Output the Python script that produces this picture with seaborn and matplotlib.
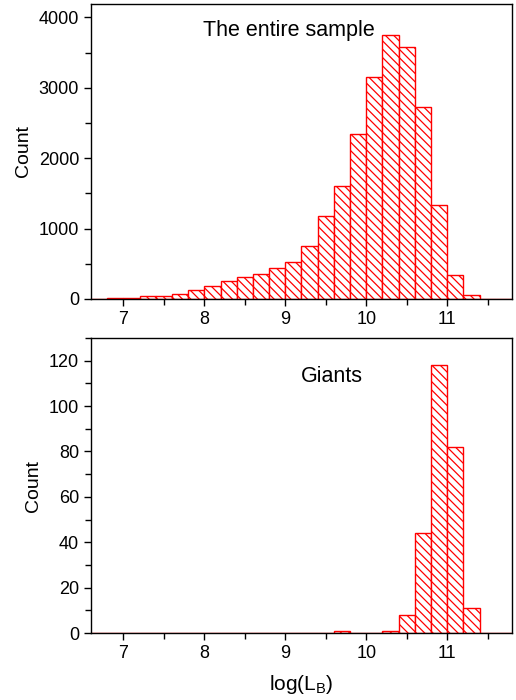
import numpy as np
import matplotlib
matplotlib.use("Agg")
import matplotlib.pyplot as plt
import seaborn as sns
from matplotlib.ticker import MultipleLocator

# bin edges for log(L_B), width 0.2
bin_edges = [6.6, 6.8, 7.0, 7.2, 7.4, 7.6, 7.8, 8.0, 8.2, 8.4, 8.6, 8.8, 9.0,
             9.2, 9.4, 9.6, 9.8, 10.0, 10.2, 10.4, 10.6, 10.8, 11.0, 11.2,
             11.4, 11.6, 11.8]

# counts per bin, the entire sample
all_counts = [3, 10, 20, 38, 47, 76, 133, 190, 260, 318, 360, 445, 531,
              754, 1185, 1611, 2346, 3156, 3744, 3583, 2730, 1332, 346, 52,
              3, 0]

# counts per bin, giants only
giant_counts = [0, 0, 0, 0, 0, 0, 0, 0, 0, 0, 0, 0, 0,
                0, 0, 1, 0, 0, 1, 8, 44, 118, 82, 11,
                0, 0]

sns.set_style("ticks")
plt.rcParams['font.family'] = ['Liberation Sans', 'DejaVu Sans']
plt.rcParams['mathtext.fontset'] = 'custom'
plt.rcParams['mathtext.rm'] = 'Liberation Sans'
plt.rcParams['hatch.color'] = 'red'
plt.rcParams['hatch.linewidth'] = 0.9
for key in ['text.color', 'axes.labelcolor', 'xtick.color', 'ytick.color',
            'axes.edgecolor']:
    plt.rcParams[key] = 'black'

centers = [(a + b) / 2 for a, b in zip(bin_edges[:-1], bin_edges[1:])]

fig = plt.figure(figsize=(5.16, 7.0), dpi=100)
ax_top = fig.add_axes([0.1764, 0.5729, 0.8158, 0.4214])
ax_bot = fig.add_axes([0.1764, 0.0957, 0.8158, 0.4214])


def draw_hist(ax, counts):
    sns.histplot(x=centers, weights=counts, bins=bin_edges, ax=ax,
                 facecolor='white', edgecolor='red', hatch='\\\\\\\\',
                 linewidth=1.0, alpha=1)
    ax.set_xlim(6.6, 11.8)
    ax.xaxis.set_major_locator(MultipleLocator(1))
    ax.xaxis.set_minor_locator(MultipleLocator(0.5))
    ax.tick_params(which='both', direction='out', labelsize=13,
                   top=False, right=False, width=1.0, color='black',
                   labelcolor='black')
    ax.tick_params(which='major', length=5)
    ax.tick_params(which='minor', length=4)
    for s in ax.spines.values():
        s.set_color('black')
        s.set_linewidth(1.0)
        s.set_visible(True)
    ax.set_ylabel('Count', fontsize=14, labelpad=5)


draw_hist(ax_top, all_counts)
ax_top.set_ylim(0, 4190)
ax_top.yaxis.set_major_locator(MultipleLocator(1000))
ax_top.yaxis.set_minor_locator(MultipleLocator(500))
ax_top.set_xlabel('')
ax_top.text(9.04, 3819, 'The entire sample', fontsize=15.5,
            ha='center', va='center')

draw_hist(ax_bot, giant_counts)
ax_bot.set_ylim(0, 130)
ax_bot.yaxis.set_major_locator(MultipleLocator(20))
ax_bot.yaxis.set_minor_locator(MultipleLocator(10))
ax_bot.set_xlabel(r'log(L$_{\rm B}$)', fontsize=15, labelpad=8)
ax_bot.text(9.57, 113, 'Giants', fontsize=15.5, ha='center', va='center')

fig.savefig('out.png', dpi=100)
